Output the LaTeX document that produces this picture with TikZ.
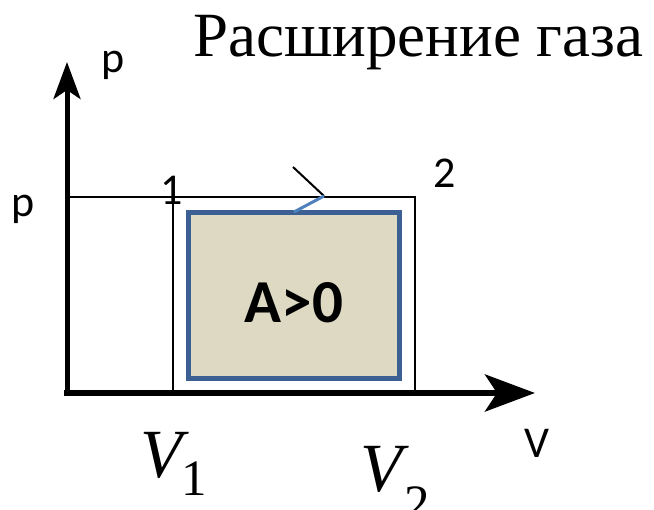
\documentclass[tikz,border=0pt]{standalone}
\usepackage{fontspec}
\setmainfont{Liberation Serif}
\newfontfamily\calib{Carlito}
\usetikzlibrary{arrows.meta}
\definecolor{boxfill}{HTML}{DDD9C3}
\definecolor{boxline}{HTML}{3C6094}
\definecolor{lightblue}{HTML}{4F81BD}
\begin{document}
\begin{tikzpicture}[x=1pt,y=-1pt,
  axis/.style={line width=5pt},
  thinline/.style={line width=1.8pt, black},
  sanslabel/.style={inner sep=0pt, font=\calib\fontsize{44}{52}\selectfont},
  serifbig/.style={inner sep=0pt, font=\fontsize{69}{80}\selectfont\itshape},
  serifsub/.style={inner sep=0pt, font=\fontsize{51}{60}\selectfont},
]
\useasboundingbox (0,0) rectangle (654,510);
% coordinates
\coordinate (O) at (67,393);
\coordinate (ybot) at (67,396);
\coordinate (xleft) at (64,393);
\coordinate (ytip) at (67,62);
\coordinate (xtip) at (535,393);
\coordinate (pl) at (67,197);
\coordinate (P1) at (173,197);
\coordinate (P2) at (415,197);
\coordinate (V1f) at (173,393);
\coordinate (V2f) at (415,393);
\coordinate (chevtop) at (293,167);
\coordinate (chev) at (324,196);
\coordinate (chevbot) at (294,212);
% work area rectangle
\node[draw=boxline, fill=boxfill, line width=5pt, minimum width=211pt, minimum height=166pt, inner sep=0pt] (work) at (294,295.5) {};
% thin process lines
\draw[thinline] (pl) -- (P2) -- (V2f);
\draw[thinline] (P1) -- (V1f);
% axes
\draw[axis, -{Stealth[length=37pt,width=27pt,inset=9pt]}] (ybot) -- (ytip);
\draw[line width=6pt, -{Stealth[length=50pt,width=37pt,inset=12pt]}] (xleft) -- (xtip);
% direction chevron
\draw[line width=2pt, black] (chevtop) -- (chev);
\draw[line width=3pt, lightblue] (chev) -- (chevbot);
% labels
\node[font=\calib\bfseries\fontsize{61}{70}\selectfont, inner sep=0pt] (A) at (294,303) {A>0};
\node[sanslabel, anchor=base] (ptop) at (113,73) {p};
\node[sanslabel, anchor=base] (pleft) at (23,217) {p};
\node[sanslabel, anchor=base] (one) at (171.5,205) {1};
\node[sanslabel, anchor=base] (two) at (445,188) {2};
\node[sanslabel, anchor=base] (vlab) at (536.5,458) {V};
\node[inner sep=0pt, anchor=base west, font=\fontsize{63}{72}\selectfont] (title) at (193,57) {Расширение газа};
\node[serifbig, anchor=base west] (V1) at (140,478) {V};
\node[serifsub, anchor=base west] (V1s) at (181,496) {1};
\node[serifbig, anchor=base west] (V2) at (360,492) {V};
\node[serifsub, anchor=base west] (V2s) at (404,521) {2};
\end{tikzpicture}
\end{document}
